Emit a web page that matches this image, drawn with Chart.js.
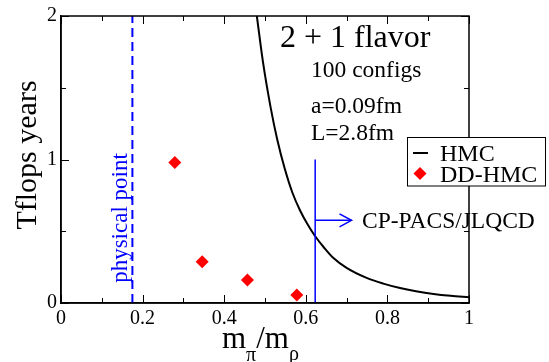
<!DOCTYPE html>
<html><head><meta charset="utf-8">
<script src="https://cdn.jsdelivr.net/npm/chart.js@4.4.0/dist/chart.umd.min.js"></script>
<style>html,body{margin:0;padding:0;background:#fff;}#wrap{width:549px;height:362px;}</style>
</head><body><div id="wrap"><canvas id="c" width="549" height="362"></canvas></div>
<script>
// ---- data ----
const hmcX = [0.480, 0.495, 0.514, 0.530, 0.549, 0.567, 0.586, 0.605, 0.623, 0.645, 0.667, 0.700, 0.749, 0.790, 0.831, 0.870, 0.913, 0.955, 1.000];
const hmcY = [2.00, 1.68, 1.36, 1.14, 0.93, 0.77, 0.645, 0.545, 0.465, 0.385, 0.315, 0.245, 0.175, 0.135, 0.104, 0.082, 0.063, 0.050, 0.040];
const ddX = [0.279, 0.346, 0.457, 0.578];
const ddY = [0.979, 0.287, 0.160, 0.056];
const physX = [0.175, 0.175];
const physY = [0, 2];
const cpX = [0.623, 0.623];
const cpY = [0, 1.0];
const cpArrowX = [0.623, 0.712];
const cpArrowY = [0.576, 0.576];
const xTicks = [0, 0.2, 0.4, 0.6, 0.8, 1];
const xTickLabels = ['0', '0.2', '0.4', '0.6', '0.8', '1'];
const xMinor = [0.1, 0.3, 0.5, 0.7, 0.9];
const yTicks = [0, 1, 2];
const yTickLabels = ['0', '1', '2'];
const yMinor = [0.5, 1.5];
const legendLabels = ['HMC', 'DD-HMC'];
const titleText = '2 + 1 flavor';
const infoLines = ['100 configs', 'a=0.09fm', 'L=2.8fm'];
const physLabel = 'physical point';
const cpLabel = 'CP-PACS/JLQCD';
const yTitle = 'Tflops years';

const SERIF = "'Liberation Serif', 'Times New Roman', serif";
const BLUE = '#0000ff';
const RED = '#ff0000';

function pts(xs, ys) { return xs.map((x, i) => ({x: x, y: ys[i]})); }
function lookup(vals, labels, v) {
  for (let i = 0; i < vals.length; i++) if (Math.abs(vals[i] - v) < 1e-6) return labels[i];
  return '';
}

const decor = {
  id: 'decor',
  afterDraw(chart) {
    const ctx = chart.ctx;
    const a = chart.chartArea;
    const xs = chart.scales.x, ys = chart.scales.y;
    ctx.save();
    // frame
    ctx.strokeStyle = '#000';
    ctx.lineWidth = 1.5;
    ctx.strokeRect(a.left, a.top, a.right - a.left, a.bottom - a.top);
    // ticks (inside, mirrored)
    ctx.lineWidth = 1;
    ctx.beginPath();
    const tx = (v, len) => {
      const p = Math.round(xs.getPixelForValue(v)) + 0.5;
      ctx.moveTo(p, a.bottom); ctx.lineTo(p, a.bottom - len);
      ctx.moveTo(p, a.top); ctx.lineTo(p, a.top + len);
    };
    const ty = (v, len) => {
      const p = Math.round(ys.getPixelForValue(v)) + 0.5;
      ctx.moveTo(a.left, p); ctx.lineTo(a.left + len, p);
      ctx.moveTo(a.right, p); ctx.lineTo(a.right - len, p);
    };
    xTicks.forEach(v => tx(v, 8));
    xMinor.forEach(v => tx(v, 5));
    yTicks.forEach(v => ty(v, 8));
    yMinor.forEach(v => ty(v, 5));
    ctx.stroke();

    // arrow head
    const ax = xs.getPixelForValue(cpArrowX[1]);
    const ay = ys.getPixelForValue(cpArrowY[1]);
    ctx.strokeStyle = BLUE;
    ctx.lineWidth = 1.5;
    ctx.beginPath();
    ctx.moveTo(ax - 12, ay - 6.5); ctx.lineTo(ax, ay); ctx.lineTo(ax - 12, ay + 6.5);
    ctx.stroke();

    // texts
    ctx.fillStyle = '#000';
    ctx.textAlign = 'left';
    ctx.textBaseline = 'alphabetic';
    ctx.font = '32px ' + SERIF;
    ctx.fillText(titleText, 280, 47);
    ctx.font = '23.5px ' + SERIF;
    ctx.fillText(infoLines[0], 311, 77);
    ctx.fillText(infoLines[1], 311, 112.5);
    ctx.fillText(infoLines[2], 311, 140);
    ctx.font = '23.5px ' + SERIF;
    ctx.fillText(cpLabel, 362, 228);

    // physical point (rotated, blue)
    ctx.save();
    ctx.fillStyle = BLUE;
    ctx.font = '23px ' + SERIF;
    ctx.translate(127, 218);
    ctx.rotate(-Math.PI / 2);
    ctx.textAlign = 'center';
    ctx.fillText(physLabel, 0, 0);
    ctx.restore();

    // legend
    ctx.fillStyle = '#fff';
    ctx.fillRect(407.5, 137.5, 138, 48.5);
    ctx.strokeStyle = '#000';
    ctx.lineWidth = 1;
    ctx.strokeRect(407.5, 137.5, 138, 48.5);
    ctx.lineWidth = 2;
    ctx.beginPath(); ctx.moveTo(413, 153); ctx.lineTo(428, 153); ctx.stroke();
    ctx.fillStyle = RED;
    ctx.beginPath();
    ctx.moveTo(420, 167); ctx.lineTo(426.5, 173.5); ctx.lineTo(420, 180); ctx.lineTo(413.5, 173.5);
    ctx.closePath(); ctx.fill();
    ctx.fillStyle = '#000';
    ctx.font = '24px ' + SERIF;
    ctx.fillText(legendLabels[0], 440, 160.5);
    ctx.fillText(legendLabels[1], 440, 182);

    // y title
    ctx.save();
    ctx.font = '30px ' + SERIF;
    ctx.translate(36, 155);
    ctx.rotate(-Math.PI / 2);
    ctx.textAlign = 'center';
    ctx.fillText(yTitle, 0, 0);
    ctx.restore();

    // x title m_pi / m_rho
    let x = 222;
    const big = '31px ' + SERIF, small = '20px ' + SERIF;
    ctx.font = big; ctx.fillText('m', x, 348); x += ctx.measureText('m').width;
    ctx.font = small; ctx.fillText('\u03c0', x, 361); x += ctx.measureText('\u03c0').width;
    ctx.font = big; ctx.fillText('/', x, 348); x += ctx.measureText('/').width;
    ctx.fillText('m', x, 348); x += ctx.measureText('m').width;
    ctx.font = small; ctx.fillText('\u03c1', x, 360);
    ctx.restore();
  }
};

new Chart(document.getElementById('c'), {
  type: 'line',
  data: {
    datasets: [
      { label: 'physical', data: pts(physX, physY), borderColor: BLUE, borderWidth: 2, borderDash: [9, 5], pointRadius: 0, fill: false },
      { label: 'cp', data: pts(cpX, cpY), borderColor: BLUE, borderWidth: 1.5, pointRadius: 0, fill: false },
      { label: 'cpArrow', data: pts(cpArrowX, cpArrowY), borderColor: BLUE, borderWidth: 1.5, pointRadius: 0, fill: false },
      { label: legendLabels[0], data: pts(hmcX, hmcY), borderColor: '#000', borderWidth: 2, pointRadius: 0, fill: false, cubicInterpolationMode: 'monotone' },
      { label: legendLabels[1], data: pts(ddX, ddY), showLine: false, pointStyle: 'rectRot', pointRadius: 6.5, pointBackgroundColor: RED, pointBorderWidth: 0, borderColor: RED }
    ]
  },
  options: {
    responsive: false,
    animation: false,
    devicePixelRatio: 1,
    layout: { padding: { left: 0, top: 15, right: 80, bottom: 0 } },
    plugins: { legend: { display: false }, tooltip: { enabled: false } },
    scales: {
      x: {
        type: 'linear', min: 0, max: 1,
        afterFit: s => { s.height = 59; },
        afterBuildTicks: s => { s.ticks = xTicks.map(v => ({ value: v })); },
        ticks: { callback: v => lookup(xTicks, xTickLabels, v), font: { family: SERIF, size: 20 }, color: '#000', padding: 4, maxRotation: 0, autoSkip: false },
        grid: { display: false, drawTicks: false },
        border: { display: true, color: '#000', width: 1.5 }
      },
      y: {
        type: 'linear', min: 0, max: 2,
        afterFit: s => { s.width = 61; },
        afterBuildTicks: s => { s.ticks = yTicks.map(v => ({ value: v })); },
        ticks: { callback: v => lookup(yTicks, yTickLabels, v), font: { family: SERIF, size: 20 }, color: '#000', padding: 4, autoSkip: false },
        grid: { display: false, drawTicks: false },
        border: { display: true, color: '#000', width: 1.5 }
      }
    }
  },
  plugins: [decor]
});
</script>
</body></html>
